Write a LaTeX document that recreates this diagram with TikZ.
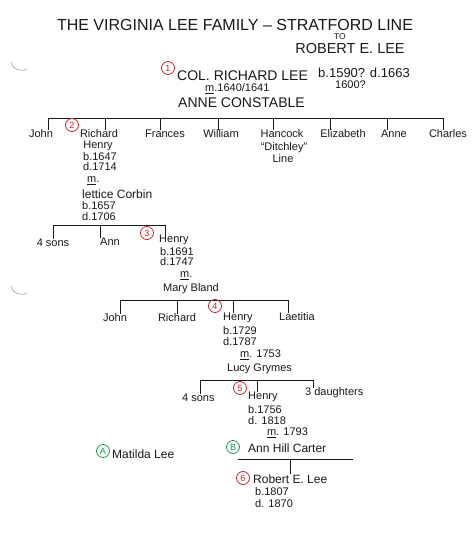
\documentclass[tikz,border=0pt]{standalone}
\usepackage{fontspec}
\setmainfont{Liberation Sans}
\usetikzlibrary{positioning,calc}
\definecolor{lnRed}{RGB}{200,35,45}
\definecolor{lnGreen}{RGB}{25,155,80}
\definecolor{lnInk}{RGB}{25,25,25}
\definecolor{lnHole}{RGB}{170,180,195}

\begin{document}
\begin{tikzpicture}[x=1pt, y=-1pt,
  font=\fontsize{11}{11}\selectfont,
  nm/.style={inner sep=0pt, text=lnInk},
  caps/.style={nm, font=\fontsize{14}{14}\selectfont},
  gen/.style={circle, draw=lnRed, text=lnRed, line width=0.8pt, inner sep=0pt, minimum size=13pt, font=\fontsize{9}{9}\selectfont},
  alt/.style={gen, draw=lnGreen, text=lnGreen},
  bar/.style={draw=lnInk, line width=1pt},
]
\useasboundingbox[fill=white] (0,0) rectangle (474,541);
% punch hole marks
\draw[lnHole, line width=0.8pt] (11,62) .. controls (13,70) and (20,72) .. (27,69);
\draw[lnHole, line width=0.8pt] (11,286) .. controls (13,294) and (20,296) .. (27,293);
% title
\node[nm, font=\fontsize{16}{16}\selectfont] (title) at (235,25) {THE VIRGINIA LEE FAMILY -- STRATFORD LINE};
\node[nm, font=\fontsize{8.5}{8.5}\selectfont] (to) at (340,37) {TO};
\node[nm, font=\fontsize{14.5}{14.5}\selectfont] (rel) at (350,49) {ROBERT E. LEE};

% generation 1
\node[gen] (g1) at (168,68) {1};
\node[caps, anchor=west] (col) at (177,76) {COL. RICHARD LEE};
\node[nm, anchor=west, font=\fontsize{13}{13}\selectfont] (colb) at (318,73) {b.1590? d.1663};
\node[nm, anchor=west] (colb2) at (335,85) {1600?};
\node[nm, anchor=west] (colm) at (205,89) {\underline{m}.1640/1641};
\node[caps, anchor=west] (anne) at (178,103) {ANNE CONSTABLE};
% children of Col. Richard Lee
\coordinate (bar1l) at (48,118);
\coordinate (bar1r) at (443,118);
\draw[bar] (bar1l) -- (bar1r);
\foreach \x/\n/\lab in {41/john/John, 99/rich/Richard, 165/fran/Frances, 221/will/William,
    282/hanc/Hancock, 343/eliz/Elizabeth, 394/anne2/Anne, 448/char/Charles}
  \node[nm] (\n) at (\x,134) {\lab};
\foreach \x/\n in {48/john, 105/rich, 160/fran, 218/will, 273/hanc, 330/eliz, 387/anne2, 443/char} {
  \coordinate (d\n) at (\x,118);
  \draw[bar] (d\n) -- (d\n |- \n.north);
}
\node[nm] (hancd) at (284,148) {``Ditchley''};
\node[nm] (hancl) at (283,159) {Line};

% generation 2
\node[gen] (g2) at (72,125) {2};
\node[nm] (rich2) at (98,146) {Henry};
\node[nm, anchor=west] (richb) at (83,157) {b.1647};
\node[nm, anchor=west] (richd) at (83,167) {d.1714};
\node[nm, anchor=west] (richm) at (87,181) {\underline{m}.};
\node[nm, anchor=west, font=\fontsize{12}{12}\selectfont] (lett) at (82,194) {lettice Corbin};
\node[nm, anchor=west] (lettb) at (82,206) {b.1657};
\node[nm, anchor=west] (lettd) at (82,217) {d.1706};
% children of Richard Henry
\coordinate (bar2l) at (53,225);
\coordinate (bar2r) at (165,225);
\draw[bar] (bar2l) -- (bar2r);
\node[nm] (sons1) at (53,243) {4 sons};
\node[nm, anchor=west] (ann) at (100,242) {Ann};
\node[nm, anchor=west] (henry3) at (159,240) {Henry};
\foreach \x/\n in {53/sons1, 100/ann, 165/henry3} {
  \coordinate (d\n) at (\x,225);
  \draw[bar] (d\n) -- (d\n |- \n.north);
}

% generation 3
\node[gen] (g3) at (147,233) {3};
\node[nm, anchor=west] (h3b) at (160,252) {b.1691};
\node[nm, anchor=west] (h3d) at (160,262) {d.1747};
\node[nm, anchor=west] (h3m) at (180,276) {\underline{m}.};
\node[nm, anchor=west] (mary) at (163,289) {Mary Bland};
% children of Henry
\coordinate (bar3l) at (120,300);
\coordinate (bar3r) at (288,300);
\draw[bar] (bar3l) -- (bar3r);
\node[nm] (john3) at (115,318) {John};
\node[nm] (rich3) at (177,318) {Richard};
\node[nm, anchor=west] (henry4) at (223,318) {Henry};
\node[nm, anchor=west] (laet) at (279,317) {Laetitia};
\foreach \x/\n in {120/john3, 177/rich3, 233/henry4, 288/laet} {
  \coordinate (d\n) at (\x,300);
  \draw[bar] (d\n) -- (d\n |- \n.north);
}

% generation 4
\node[gen] (g4) at (215,306) {4};
\node[nm, anchor=west] (h4b) at (223,331) {b.1729};
\node[nm, anchor=west] (h4d) at (223,342) {d.1787};
\node[nm, anchor=west] (h4m) at (240,355) {\underline{m}. 1753};
\node[nm, anchor=west] (lucy) at (227,369) {Lucy Grymes};
% children of Henry and Lucy
\coordinate (bar4l) at (200,380);
\coordinate (bar4r) at (313,380);
\draw[bar] (bar4l) -- (bar4r);
\node[nm, anchor=west] (sons4) at (182,398) {4 sons};
\node[nm, anchor=west] (henry5) at (248,397) {Henry};
\node[nm, anchor=west] (daug) at (305,393) {3 daughters};
\foreach \x/\n in {200/sons4, 257/henry5, 313/daug} {
  \coordinate (d\n) at (\x,380);
  \draw[bar] (d\n) -- (d\n |- \n.north);
}

% generation 5
\node[gen] (g5) at (240,388) {5};
\node[nm, anchor=west] (h5b) at (248,410) {b.1756};
\node[nm, anchor=west] (h5d) at (248,421) {d. 1818};
\node[nm, anchor=west] (h5m) at (267,433) {\underline{m}. 1793};
\node[alt] (gB) at (233,447) {B};
\node[nm, anchor=west, font=\fontsize{12}{12}\selectfont] (carter) at (248,448) {Ann Hill Carter};
\node[alt] (gA) at (103,451) {A};
\node[nm, anchor=west, font=\fontsize{12}{12}\selectfont] (matilda) at (112,454) {Matilda Lee};
% child of Henry and Ann
\coordinate (bar5l) at (238,459);
\coordinate (bar5r) at (353,459);
\draw[bar] (bar5l) -- (bar5r);
\node[nm, anchor=west, font=\fontsize{12}{12}\selectfont] (robert) at (253,479) {Robert E. Lee};
\coordinate (drobert) at (290,459);
\draw[bar] (drobert) -- (drobert |- robert.north);

% generation 6
\node[gen] (g6) at (243,478) {6};
\node[nm, anchor=west] (rb) at (255,492) {b.1807};
\node[nm, anchor=west] (rd) at (255,504) {d. 1870};
\end{tikzpicture}
\end{document}
